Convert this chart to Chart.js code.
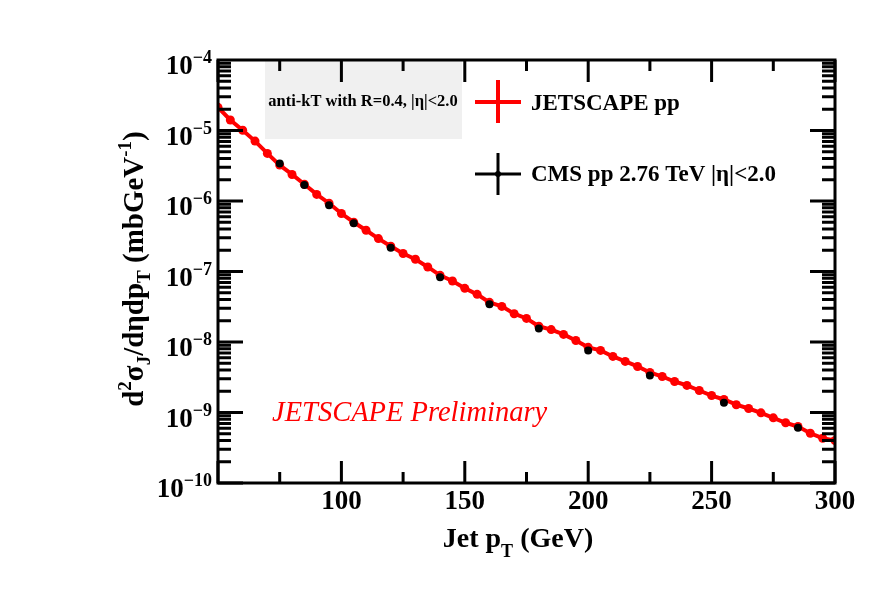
<!DOCTYPE html>
<html>
<head>
<meta charset="utf-8">
<script src="https://cdn.jsdelivr.net/npm/chart.js@4/dist/chart.umd.min.js"></script>
<style>
  html, body { margin: 0; padding: 0; background: #fff; }
  #wrap { width: 878px; height: 603px; }
</style>
</head>
<body>
<div id="wrap"><canvas id="mycanvas" width="878" height="603"></canvas></div>
<script>
// JETSCAPE pp points, every 5 GeV
var jsPt = [50, 55, 60, 65, 70, 75, 80, 85, 90, 95, 100, 105, 110, 115, 120, 125, 130, 135, 140, 145,
  150, 155, 160, 165, 170, 175, 180, 185, 190, 195, 200, 205, 210, 215, 220, 225, 230, 235, 240, 245,
  250, 255, 260, 265, 270, 275, 280, 285, 290, 295, 300];
var jsXsec = [2.13e-5, 1.41e-5, 1.01e-5, 7.07e-6, 4.73e-6, 3.23e-6, 2.38e-6, 1.73e-6, 1.24e-6, 9.3e-7,
  6.64e-7, 5.0e-7, 3.85e-7, 2.93e-7, 2.28e-7, 1.80e-7, 1.49e-7, 1.16e-7, 8.83e-8, 7.33e-8,
  5.77e-8, 4.74e-8, 3.65e-8, 3.2e-8, 2.52e-8, 2.16e-8, 1.67e-8, 1.50e-8, 1.28e-8, 1.05e-8,
  8.4e-9, 7.6e-9, 6.24e-9, 5.3e-9, 4.5e-9, 3.7e-9, 3.24e-9, 2.75e-9, 2.42e-9, 2.05e-9,
  1.74e-9, 1.53e-9, 1.29e-9, 1.14e-9, 9.9e-10, 8.4e-10, 7.15e-10, 6.33e-10, 5.08e-10, 4.32e-10, 4.0e-10];

// CMS pp 2.76 TeV, bin centres
var cmsPt = [75, 85, 95, 105, 120, 140, 160, 180, 200, 225, 255, 285];
var cmsXsec = [3.41e-6, 1.68e-6, 8.7e-7, 4.84e-7, 2.18e-7, 8.28e-8, 3.42e-8, 1.56e-8, 7.6e-9, 3.36e-9, 1.37e-9, 6.07e-10];

var xTickLabels = [100, 150, 200, 250, 300];
var yDecades = [-4, -5, -6, -7, -8, -9, -10];

var SERIF = '"Liberation Serif", "DejaVu Serif", serif';

function pts(xs, ys) {
  var out = [];
  for (var i in xs) out.push({ x: xs[i], y: ys[i] });
  return out;
}

// draw a list of [text, size, dy] pieces starting at x
function richWidth(ctx, parts, style) {
  var w = 0;
  for (var i = 0; i < parts.length; i++) {
    ctx.font = style + ' ' + parts[i][1] + 'px ' + SERIF;
    w += ctx.measureText(parts[i][0]).width;
  }
  return w;
}
function drawRich(ctx, parts, x, y, style) {
  for (var i = 0; i < parts.length; i++) {
    ctx.font = style + ' ' + parts[i][1] + 'px ' + SERIF;
    ctx.fillText(parts[i][0], x, y + parts[i][2]);
    x += ctx.measureText(parts[i][0]).width;
  }
}

var rootStyle = {
  id: 'rootStyle',
  beforeDatasetsDraw: function(chart) {
    var ctx = chart.ctx;
    var ys = chart.scales.y;
    // info box
    ctx.save();
    ctx.fillStyle = '#f0f0f0';
    ctx.fillRect(265, ys.top, 197, 139 - ys.top);
    ctx.fillStyle = '#000';
    ctx.font = 'bold 16.5px ' + SERIF;
    ctx.textAlign = 'center';
    ctx.textBaseline = 'alphabetic';
    ctx.fillText('anti-kT with R=0.4, |\u03b7|<2.0', 363, 106);
    ctx.restore();
  },
  afterDraw: function(chart) {
    var ctx = chart.ctx;
    var xs = chart.scales.x, ys = chart.scales.y;
    var L = xs.left, R = xs.right, T = ys.top, B = ys.bottom;
    ctx.save();
    ctx.strokeStyle = '#000';
    ctx.lineWidth = 3;
    ctx.lineCap = 'butt';

    // x ticks, bottom and top
    for (var v = 50; v <= 300; v += 25) {
      var px = xs.getPixelForValue(v);
      var len = (v % 50 === 0) ? 22 : 11;
      ctx.beginPath();
      ctx.moveTo(px, B); ctx.lineTo(px, B - len);
      ctx.moveTo(px, T); ctx.lineTo(px, T + len);
      ctx.stroke();
    }
    // y ticks, left and right (log)
    for (var d = -10; d < -4; d++) {
      for (var m = 1; m <= 9; m++) {
        var py = ys.getPixelForValue(m * Math.pow(10, d));
        var l = (m === 1) ? 25 : 13;
        ctx.beginPath();
        ctx.moveTo(L, py); ctx.lineTo(L + l, py);
        ctx.moveTo(R, py); ctx.lineTo(R - l, py);
        ctx.stroke();
      }
    }
    // frame
    ctx.strokeRect(L, T, R - L, B - T);

    ctx.fillStyle = '#000';
    ctx.textBaseline = 'alphabetic';
    // x tick labels
    ctx.textAlign = 'center';
    ctx.font = 'bold 27px ' + SERIF;
    for (var i = 0; i < xTickLabels.length; i++) {
      ctx.fillText(String(xTickLabels[i]), xs.getPixelForValue(xTickLabels[i]), 509);
    }
    // y tick labels 10^n
    ctx.textAlign = 'left';
    for (var j = 0; j < yDecades.length; j++) {
      var yp = ys.getPixelForValue(Math.pow(10, yDecades[j]));
      var parts = [['10', 27, 14], ['\u2212' + (-yDecades[j]), 18, 3]];
      var w = richWidth(ctx, parts, 'bold');
      drawRich(ctx, parts, 212 - w, yp, 'bold');
    }

    // x title
    var xt = [['Jet p', 28, 0], ['T', 18, 10], [' (GeV)', 28, 0]];
    var xw = richWidth(ctx, xt, 'bold');
    drawRich(ctx, xt, 518 - xw / 2, 547, 'bold');

    // y title, rotated
    var yt = [['d', 29, 0], ['2', 19, -12], ['\u03c3', 29, 0], ['J', 19, 7], ['/d\u03b7dp', 29, 0],
      ['T', 19, 7], [' (mbGeV', 29, 0], ['-1', 19, -12], [')', 29, 0]];
    ctx.save();
    ctx.translate(143, 269);
    ctx.rotate(-Math.PI / 2);
    var yw = richWidth(ctx, yt, 'bold');
    drawRich(ctx, yt, -yw / 2, 0, 'bold');
    ctx.restore();

    // legend
    ctx.strokeStyle = '#ff0000';
    ctx.lineWidth = 4;
    ctx.beginPath();
    ctx.moveTo(475, 102); ctx.lineTo(521, 102);
    ctx.moveTo(498, 80); ctx.lineTo(498, 123);
    ctx.stroke();
    ctx.strokeStyle = '#000';
    ctx.lineWidth = 3;
    ctx.beginPath();
    ctx.moveTo(475, 174); ctx.lineTo(521, 174);
    ctx.moveTo(498, 153); ctx.lineTo(498, 195);
    ctx.stroke();
    ctx.beginPath();
    ctx.arc(498, 174, 3, 0, Math.PI * 2);
    ctx.fill();
    ctx.font = 'bold 23px ' + SERIF;
    ctx.fillText('JETSCAPE pp', 531, 110);
    ctx.fillText('CMS pp 2.76 TeV |\u03b7|<2.0', 531, 181);

    // preliminary tag
    ctx.fillStyle = '#ff0000';
    ctx.font = 'italic 28.5px ' + SERIF;
    ctx.fillText('JETSCAPE Preliminary', 272, 421);
    ctx.restore();
  }
};

var ctx = document.getElementById('mycanvas').getContext('2d');
var chartdata = {
  datasets: [
    {
      label: 'JETSCAPE pp',
      data: pts(jsPt, jsXsec),
      borderColor: '#ff0000',
      backgroundColor: '#ff0000',
      borderWidth: 4,
      pointRadius: 4.5,
      pointBorderWidth: 0,
      tension: 0,
      order: 2
    },
    {
      label: 'CMS pp 2.76 TeV |\u03b7|<2.0',
      data: pts(cmsPt, cmsXsec),
      showLine: false,
      borderColor: '#000',
      backgroundColor: '#000',
      pointRadius: 4,
      pointBorderWidth: 0,
      order: 1
    }
  ]
};

var chart = new Chart(ctx, {
  type: 'line',
  data: chartdata,
  options: {
    responsive: false,
    animation: false,
    layout: { padding: { left: 218, right: 43, top: 60, bottom: 120 } },
    plugins: { legend: { display: false }, tooltip: { enabled: false } },
    scales: {
      x: { type: 'linear', min: 50, max: 300, display: false },
      y: { type: 'logarithmic', min: 1e-10, max: 1e-4, display: false }
    }
  },
  plugins: [rootStyle]
});
</script>
</body>
</html>
